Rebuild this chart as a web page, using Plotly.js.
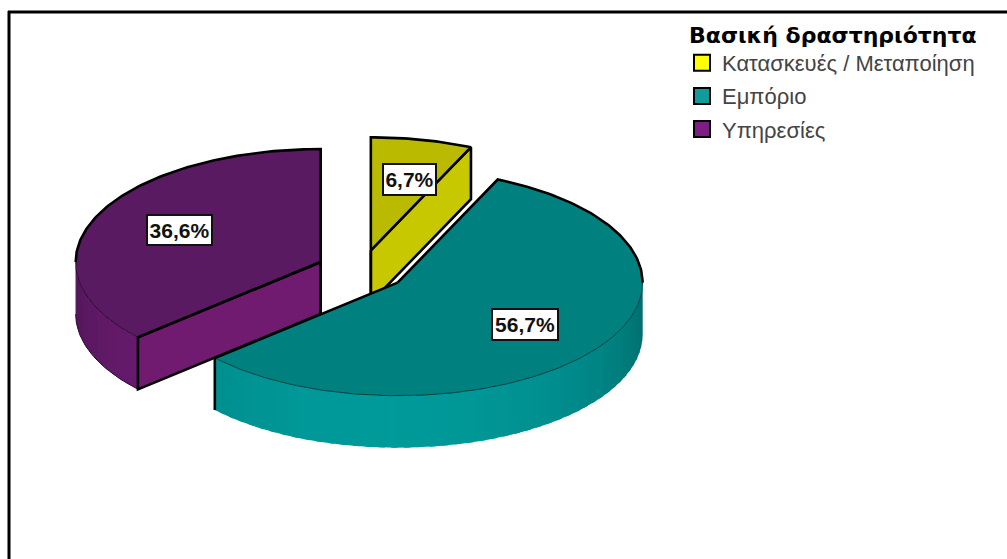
<!DOCTYPE html>
<html>
<head>
<meta charset="utf-8">
<script src="https://cdn.plot.ly/plotly-3.0.1.min.js"></script>
<style>html,body{margin:0;padding:0;background:#fff;overflow:hidden}</style>
</head>
<body>
<div id="chart" style="width:1007px;height:559px"></div>
<script>
// Share of companies by main activity
const categories = ['Κατασκευές / Μεταποίηση', 'Εμπόριο', 'Υπηρεσίες'];
const shares = [6.7, 56.7, 36.6];
const legendTitle = 'Βασική δραστηριότητα';

const legendColors = ['#ffff00', '#119c9c', '#7d1f80'];
const topColors = [[186, 186, 0], [0, 128, 126], [90, 26, 98]];
const cutColors = [[200, 200, 0], [0, 128, 126], [112, 26, 112]];
const wallColors = [[186, 186, 0], [0, 128, 128], [92, 24, 98]];

// Pie projection, in page pixels
const W = 1007, H = 559;
const cx = 361.5, cy = 270.5, rx = 245, ry = 113, depth = 52, explode = 44.7;
const labelRadius = 0.65;
const labelNudge = [[5, -1], [-1.5, 2], [4.5, 2]];
const labelSize = [[55, 33], [68, 33], [67, 32]];

const rad = d => d * Math.PI / 180;
const traces = [];
const black = '#000';

function poly(xs, ys, rgb) {
  const c = 'rgb(' + rgb.map(Math.round).join(',') + ')';
  traces.push({x: xs, y: ys, mode: 'lines', fill: 'toself', fillcolor: c,
    line: {width: 0}, hoverinfo: 'skip', showlegend: false});
}
function stroke(xs, ys, width, color) {
  traces.push({x: xs, y: ys, mode: 'lines', line: {color: color || black, width: width},
    hoverinfo: 'skip', showlegend: false});
}

// Slice angles run clockwise from twelve o'clock
let start = 0;
const slices = shares.map((v, i) => {
  const a0 = start, a1 = start + v * 3.6;
  start = a1;
  const mid = (a0 + a1) / 2;
  const ax = cx + explode * Math.sin(rad(mid));
  const ay = cy - explode * (ry / rx) * Math.cos(rad(mid));
  return {i, a0, a1, mid, ax, ay};
});
const px = (s, a, r = 1) => s.ax + rx * r * Math.sin(rad(a));
const py = (s, a, r = 1) => s.ay - ry * r * Math.cos(rad(a));
function arc(s, a0, a1, drop = 0) {
  const xs = [], ys = [];
  const n = Math.max(2, Math.ceil(Math.abs(a1 - a0)));
  for (let k = 0; k <= n; k++) {
    const a = a0 + (a1 - a0) * k / n;
    xs.push(px(s, a));
    ys.push(py(s, a) + drop);
  }
  return {xs, ys};
}
const shade = (rgb, a) => {
  const f = 0.86 + 0.34 * Math.cos(rad(a - 185));
  return rgb.map(c => Math.min(255, c * f));
};

// Outer wall, split into narrow overlapping strips so the shading varies along the rim
function wall(s, a0, a1) {
  if (a1 <= a0) return;
  const step = 3;
  for (let a = a0; a < a1; a += step) {
    const b = Math.min(a + step + 1.5, a1);
    const t = arc(s, a, b), u = arc(s, a, b, depth);
    poly(t.xs.concat(u.xs.slice().reverse()), t.ys.concat(u.ys.slice().reverse()),
      shade(wallColors[s.i], a + step / 2));
  }
}
function cutFace(s, a) {
  const x = px(s, a), y = py(s, a);
  poly([s.ax, x, x, s.ax], [s.ay, y, y + depth, s.ay + depth], cutColors[s.i]);
  stroke([s.ax, x, x, s.ax, s.ax], [s.ay, y, y + depth, s.ay + depth, s.ay], 2.6);
}
function topFace(s) {
  const t = arc(s, s.a0, s.a1);
  poly([s.ax].concat(t.xs, [s.ax]), [s.ay].concat(t.ys, [s.ay]), topColors[s.i]);
}

// Yellow slice: only its clockwise cut face shows
const [yel, teal, pur] = slices;
cutFace(yel, yel.a1);
topFace(yel);
{
  const t = arc(yel, yel.a0, yel.a1);
  stroke([yel.ax].concat(t.xs, [yel.ax]), [yel.ay].concat(t.ys, [yel.ay]), 2.6);
  stroke([yel.ax, yel.ax], [yel.ay, yel.ay + depth], 2.6);
}

// Purple slice: wall on the left, cut face towards the viewer
wall(pur, pur.a0, 270);
topFace(pur);
cutFace(pur, pur.a0);
{
  const t = arc(pur, 270, pur.a1);
  stroke(t.xs.concat([pur.ax, pur.ax]), t.ys.concat([pur.ay, pur.ay + depth]), 2.6);
  stroke([pur.ax, px(pur, pur.a0)], [pur.ay, py(pur, pur.a0)], 2.6);
  const f = arc(pur, pur.a0, 270);
  stroke(f.xs, f.ys, 1, '#2a0a2e');
  const b = arc(pur, pur.a0, 270, depth);
  stroke(b.xs, b.ys, 1, '#2a0a2e');
}

// Teal slice sits in front of the other two
wall(teal, 90, teal.a1);
topFace(teal);
{
  const rim = arc(teal, 90, teal.a1);
  stroke(rim.xs, rim.ys, 1, '#00403f');
  const back = arc(teal, teal.a0, 90);
  stroke([teal.ax].concat(back.xs), [teal.ay].concat(back.ys), 2.6);
  const ex = px(teal, teal.a1), ey = py(teal, teal.a1);
  stroke([teal.ax, ex, ex], [teal.ay, ey, ey + depth], 2.6);
}

// Legend entries, one group each so the row spacing can be set
categories.forEach((name, i) => {
  traces.push({x: [null], y: [null], mode: 'markers', name: name,
    legendgroup: 'g' + i, showlegend: true, hoverinfo: 'skip',
    marker: {symbol: 'square', size: 16, color: legendColors[i], line: {color: black, width: 2}}});
});

// Percentage labels
const annotations = slices.map(s => ({
  x: s.ax + labelRadius * rx * Math.sin(rad(s.mid)),
  y: s.ay - labelRadius * ry * Math.cos(rad(s.mid)),
  xshift: labelNudge[s.i][0], yshift: labelNudge[s.i][1],
  xref: 'x', yref: 'y', showarrow: false,
  text: '<b>' + shares[s.i].toFixed(1).replace('.', ',') + '%</b>',
  font: {family: 'Liberation Sans, Arial, sans-serif', size: 21, color: '#111'},
  bgcolor: '#fff', bordercolor: '#111', borderwidth: 2, borderpad: 0,
  width: labelSize[s.i][0] - 4, height: labelSize[s.i][1] - 4, align: 'center', valign: 'middle'
}));

// Legend heading, set apart from the legend box so it can overhang the swatches
annotations.push({
  x: 687, y: 35, xref: 'x', yref: 'y', xanchor: 'left', yanchor: 'middle', showarrow: false,
  text: '<b>' + legendTitle + '</b>',
  font: {family: 'DejaVu Sans, sans-serif', size: 22, color: '#000'}
});

const layout = {
  width: W, height: H, margin: {l: 0, r: 0, t: 0, b: 0},
  paper_bgcolor: '#fff', plot_bgcolor: '#fff',
  xaxis: {range: [0, W], visible: false, fixedrange: true},
  yaxis: {range: [H, 0], visible: false, fixedrange: true},
  showlegend: true,
  legend: {
    x: 682 / W, y: 1 - 42 / H, xanchor: 'left', yanchor: 'top',
    bgcolor: 'rgba(0,0,0,0)', borderwidth: 0, tracegroupgap: 1.5,
    traceorder: 'grouped', itemclick: false, itemdoubleclick: false,
    font: {family: 'Liberation Sans, Arial, sans-serif', size: 22, color: '#444'}
  },
  annotations: annotations,
  shapes: [
    {type: 'line', xref: 'x', yref: 'y', x0: 8, x1: W, y0: 12, y1: 12, line: {color: black, width: 3}},
    {type: 'line', xref: 'x', yref: 'y', x0: 9, x1: 9, y0: 11, y1: H, line: {color: black, width: 3}}
  ]
};
Plotly.newPlot('chart', traces, layout, {displayModeBar: false, staticPlot: true});
</script>
</body>
</html>
